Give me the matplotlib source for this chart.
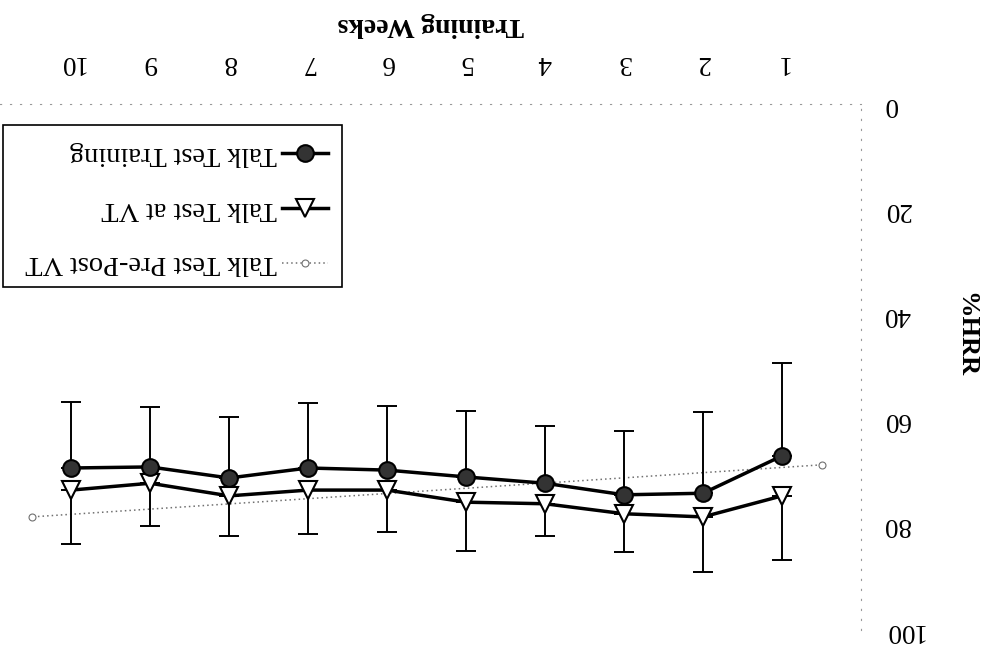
import matplotlib
matplotlib.use('Agg')
import matplotlib.pyplot as plt
from matplotlib.lines import Line2D
from matplotlib.patches import Rectangle

plt.rcParams['font.family'] = ['Liberation Serif', 'DejaVu Serif']

# ---------------- data ----------------
weeks = [1, 2, 3, 4, 5, 6, 7, 8, 9, 10]
training_mean = [66.9, 74.0, 74.3, 72.1, 70.9, 69.6, 69.2, 71.1, 69.0, 69.2]
training_sd = [17.7, 15.4, 12.1, 10.9, 12.5, 12.2, 12.4, 11.6, 11.4, 12.5]
vt_mean = [74.5, 78.5, 77.9, 76.0, 75.7, 73.4, 73.4, 74.5, 72.1, 73.4]
vt_sd = [12.2, 10.5, 7.3, 6.1, 9.3, 8.0, 8.3, 7.6, 8.1, 10.3]
prepost_x = [0.5, 10.5]
prepost_mean = [68.6, 78.5]
y_ticks = [0, 20, 40, 60, 80, 100]
x_label = 'Training Weeks'
y_label = '%HRR'
legend_labels = ['Talk Test Training', 'Talk Test at VT', 'Talk Test Pre-Post VT']

W, H = 987, 645
fig = plt.figure(figsize=(W / 100, H / 100), dpi=100)
ax = fig.add_axes([0, 1 - 630 / H, 861 / W, (630 - 104) / H])
ax.set_xlim(10.9, 0)
ax.set_ylim(100, 0)

zeros = [0] * len(weeks)
ax.plot(prepost_x, prepost_mean, ls=(0, (1, 2)), color='#707070', lw=1.1,
        marker='o', ms=5, mfc='white', mec='#707070', mew=0.8, zorder=2)
ax.errorbar(weeks, training_mean, yerr=[training_sd, zeros], fmt='none',
            ecolor='black', elinewidth=1.4, capsize=7, capthick=1.4, zorder=3)
ax.errorbar(weeks, vt_mean, yerr=[zeros, vt_sd], fmt='none',
            ecolor='black', elinewidth=1.4, capsize=7, capthick=1.4, zorder=3)
ax.plot(weeks, vt_mean, color='black', lw=2.5, marker='v', ms=12.5,
        mfc='white', mec='black', mew=1.5, zorder=4)
ax.plot(weeks, training_mean, color='black', lw=2.5, marker='o', ms=12,
        mfc='#333333', mec='black', mew=1.5, zorder=5)

for s in ['bottom', 'left']:
    ax.spines[s].set_visible(False)
for s in ['top', 'right']:
    ax.spines[s].set_linestyle((0, (1, 8)))
    ax.spines[s].set_color('#999999')
    ax.spines[s].set_linewidth(0.8)

ax.xaxis.tick_top()
ax.yaxis.tick_right()
ax.set_xticks(weeks)
ax.set_yticks(y_ticks)
ax.tick_params(axis='both', length=0, labelsize=19.5)
ax.tick_params(axis='x', pad=21)
ax.tick_params(axis='y', pad=16)
for lab in ax.get_xticklabels():
    lab.set_rotation(180)
for lab in ax.get_yticklabels():
    lab.set_rotation(180)
    lab.set_va('center')

fig.text(431 / W, 1 - 24 / H, x_label, rotation=180, ha='center', va='center',
         fontsize=20, fontweight='bold')
fig.text(966 / W, 1 - 335 / H, y_label, rotation=270, ha='center', va='center',
         fontsize=19, fontweight='bold')

# legend (drawn upside-down like the reference)
fig.add_artist(Rectangle((3 / W, 1 - 287 / H), (342 - 3) / W, (287 - 125) / H,
                         transform=fig.transFigure, fill=False, ec='black', lw=1.2))
styles = [
    dict(color='black', lw=2.5, marker='o', ms=12, mfc='#333333', mec='black', mew=1.5),
    dict(color='black', lw=2.5, marker='v', ms=12.5, mfc='white', mec='black', mew=1.5),
    dict(color='#707070', lw=1.1, ls=(0, (1, 2)), marker='o', ms=5, mfc='white',
         mec='#707070', mew=0.8),
]
for yy, lab, st in zip([153, 208, 263], legend_labels, styles):
    fy = 1 - yy / H
    fig.add_artist(Line2D([282 / W, 305 / W, 328 / W], [fy, fy, fy],
                          transform=fig.transFigure, markevery=[1], **st))
    fig.text(277 / W, fy, lab, rotation=180, ha='right', va='center', fontsize=20.5)

fig.savefig('out.png', dpi=100)
